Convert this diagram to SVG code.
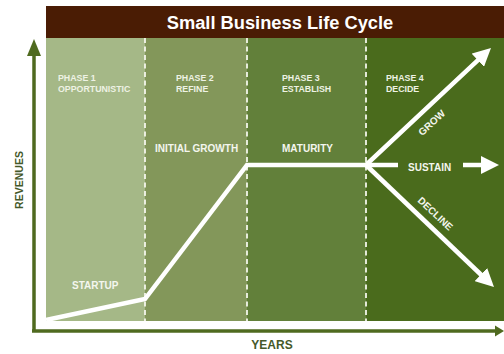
<svg xmlns="http://www.w3.org/2000/svg" width="504" height="354" viewBox="0 0 504 354">
<style>
.ph{font-family:"Liberation Sans",Arial,sans-serif;font-weight:bold;font-size:8.8px;fill:#eef2e4}
.st{font-family:"Liberation Sans",Arial,sans-serif;font-weight:bold;font-size:10px;fill:#f4f6ee}
.ax{font-family:"Liberation Sans",Arial,sans-serif;font-weight:bold;fill:#45592a}
.div{stroke:#f3f5ea;stroke-width:1.8;stroke-dasharray:5,3.5}
.cv{fill:none;stroke:#ffffff;stroke-width:4.5;stroke-linejoin:miter}
.axl{stroke:#4f6a1f;stroke-width:3.5;fill:none}
</style>
<defs>
<marker id="wh" markerUnits="userSpaceOnUse" markerWidth="20" markerHeight="18" viewBox="0 0 20 18" refX="2" refY="9" orient="auto">
<path d="M0,0 L18,9 L0,18 z" fill="#ffffff"/>
</marker>
</defs>
<rect x="0" y="0" width="504" height="354" fill="#ffffff"/>
<g id="title">
<rect x="46" y="6" width="458" height="32" fill="#4a1c04"/>
<text x="280" y="28.5" text-anchor="middle" font-family="'Liberation Sans',Arial,sans-serif" font-weight="bold" font-size="18.3" fill="#ffffff">Small Business Life Cycle</text>
</g>
<g id="phase1">
<rect x="46" y="38" width="99" height="283" fill="#a5b887"/>
<text class="ph" x="58" y="81">PHASE 1</text>
<text class="ph" x="58" y="91.5">OPPORTUNISTIC</text>
<text class="st" x="72" y="289">STARTUP</text>
</g>
<g id="phase2">
<rect x="145" y="38" width="102" height="283" fill="#83975a"/>
<text class="ph" x="176" y="81">PHASE 2</text>
<text class="ph" x="176" y="91.5">REFINE</text>
<text class="st" x="155" y="152">INITIAL GROWTH</text>
</g>
<g id="phase3">
<rect x="247" y="38" width="119" height="283" fill="#62803a"/>
<text class="ph" x="282" y="81">PHASE 3</text>
<text class="ph" x="282" y="91.5">ESTABLISH</text>
<text class="st" x="282" y="152">MATURITY</text>
</g>
<g id="phase4">
<rect x="366" y="38" width="138" height="283" fill="#4a6b1c"/>
<text class="ph" x="386" y="81">PHASE 4</text>
<text class="ph" x="386" y="91.5">DECIDE</text>
<text class="st" x="408" y="171">SUSTAIN</text>
<text class="st" x="432" y="126" text-anchor="middle" transform="rotate(-43 432 123)" font-size="9.5">GROW</text>
<text class="st" x="435" y="217" text-anchor="middle" transform="rotate(43 435 214)" font-size="9.5">DECLINE</text>
</g>
<g id="dividers">
<line class="div" x1="145" y1="38" x2="145" y2="321"/>
<line class="div" x1="247" y1="38" x2="247" y2="321"/>
<line class="div" x1="366" y1="38" x2="366" y2="321"/>
</g>
<g id="connectors">
<polyline class="cv" points="46,320 145,299 247,165 366,165 479.3,58.9" marker-end="url(#wh)"/>
<line class="cv" x1="366" y1="165" x2="398" y2="165"/>
<line class="cv" x1="463" y1="165" x2="483" y2="165" marker-end="url(#wh)"/>
<line class="cv" x1="366" y1="165" x2="482.4" y2="276" marker-end="url(#wh)"/>
</g>
<g id="axes">
<line class="axl" x1="34" y1="332" x2="34" y2="54"/>
<polygon points="34,39 27,56 41,56" fill="#4f6a1f"/>
<line class="axl" x1="32" y1="331" x2="497" y2="331"/>
<polygon points="504,331 495,325.5 495,336.5" fill="#4f6a1f"/>
<text class="ax" x="23" y="180" font-size="10.5" text-anchor="middle" transform="rotate(-90 23 180)">REVENUES</text>
<text class="ax" x="272" y="349" font-size="12" text-anchor="middle">YEARS</text>
</g>
</svg>
